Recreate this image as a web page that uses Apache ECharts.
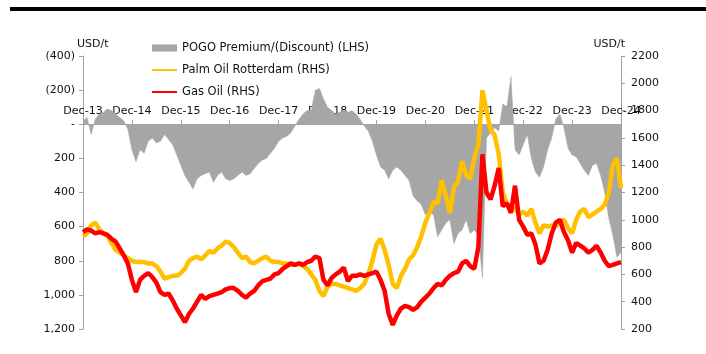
<!DOCTYPE html>
<html>
<head>
<meta charset="utf-8">
<script src="https://cdn.jsdelivr.net/npm/echarts@6/dist/echarts.min.js"></script>
<style>
  html, body { margin: 0; padding: 0; background: #fff; }
  #chart { width: 706px; height: 354px; }
</style>
</head>
<body>
<div id="chart"></div>
<script>
// monthly points, Dec-13 .. Dec-24 (133 months)
const monthNames = ['Jan', 'Feb', 'Mar', 'Apr', 'May', 'Jun', 'Jul', 'Aug', 'Sep', 'Oct', 'Nov', 'Dec'];
const months = [];
for (let i = 0; i <= 132; i++) {
    let mi = (11 + i) % 12;
    let yy = 13 + Math.floor((11 + i) / 12);
    months.push(monthNames[mi] + '-' + yy);
}

// USD/t, Palm Oil Rotterdam (RHS)
const palm = [
    880, 900, 960, 980, 930, 900, 880, 830, 780, 760, 740, 720,
    700, 690, 690, 690, 680, 680, 660, 620, 570, 580, 590, 590,
    610, 640, 700, 720, 730, 710, 740, 770, 760, 790, 810, 840,
    830, 800, 760, 720, 730, 690, 680, 700, 720, 730, 700, 690,
    690, 680, 680, 670, 670, 680, 660, 640, 600, 560, 480, 440,
    510, 530, 530, 520, 510, 500, 490, 480, 500, 530, 600, 700,
    820, 860, 780, 670, 530, 500, 590, 640, 710, 740, 800, 880,
    980, 1050, 1130, 1120, 1290, 1180, 1050, 1240, 1280, 1430, 1330, 1300,
    1450, 1550, 1950, 1800, 1660, 1620, 1480, 1200, 1120, 1100, 1080, 1040,
    1060, 1030, 1080, 980, 900, 960, 950, 960, 950, 990, 1000, 940,
    900, 1000, 1060, 1080, 1020, 1040, 1060, 1080, 1110, 1200, 1400, 1450,
    1230
];

// USD/t, Gas Oil (RHS)
const gasOil = [
    910, 930, 920, 900, 910, 900, 890, 860, 840, 790, 740, 680,
    560, 470, 560, 590, 610, 580, 540, 470, 450, 460, 410, 350,
    300, 250, 310, 350, 400, 450, 420, 440, 450, 460, 470, 490,
    500, 500, 480, 450, 430, 460, 480, 520, 550, 560, 570, 600,
    610, 640, 660, 680, 670, 680, 669, 690, 700, 730, 720, 560,
    520, 574, 600, 620, 650, 550, 590, 590, 600, 590, 600, 610,
    620, 560, 480, 310, 230, 300, 350, 370, 360, 340, 360, 400,
    430, 460, 500, 530, 520, 560, 590, 610, 620, 680, 700, 660,
    640, 800, 1480, 1200, 1150, 1250, 1380, 1100, 1120, 1050, 1250, 1000,
    950, 890, 900, 820, 680, 700, 780, 900, 980, 1000, 910, 850,
    760, 830, 810, 790, 760, 780, 810, 760, 700, 660, 670, 680,
    690
];

// USD/t, POGO Premium/(Discount) (LHS)
const pogo = [
    -20, -40, 60, -30, -60, -70, -90, -80, -60, -40, -20, 30,
    150, 220, 150, 170, 100, 80, 110, 100, 60, 90, 120, 180,
    240, 300, 340, 380, 320, 300, 290, 280, 340, 300, 280, 320,
    330, 320, 300, 280, 300, 290, 260, 230, 210, 200, 170, 140,
    100, 80, 70, 50, 10, -30, -60, -80, -80, -200, -210, -150,
    -100, -80, -60, -70, -80, -70, -80, -60, -30, 10, 40, 100,
    180, 250, 270, 320, 270, 250, 270, 300, 330, 420, 450, 470,
    530, 520, 530, 660, 620, 580, 560, 700, 640, 620, 560, 640,
    620, 650, 900, 80, 50, 20, 40, -120, -100, -280, 150, 180,
    120, 60, 200, 280, 310, 250, 150, 80, -30, -60, 20, 140,
    180, 190, 230, 270, 300, 240, 230, 300, 400, 550, 650, 780,
    750
];

const labelFont = 'DejaVu Sans';
const lhsMin = -400;
const lhsMax = 1200;
const plotTop = 56;
const plotBottom = 25;
const chartHeight = 354;

// the date axis sits on the LHS zero line
const zeroOffset = (chartHeight - plotTop - plotBottom) * (0 - lhsMin) / (lhsMax - lhsMin);

let chart = echarts.init(document.getElementById('chart'), null, {renderer: 'canvas'});

let option = {
    backgroundColor: '#ffffff',
    animation: false,
    textStyle: {fontFamily: labelFont},
    graphic: [{
        type: 'rect',
        left: 10,
        top: 7,
        shape: {width: 696, height: 4},
        style: {fill: '#000'}
    }],
    grid: {left: 83, right: 85, top: plotTop, bottom: plotBottom, containLabel: false},
    legend: {
        orient: 'vertical',
        left: 151,
        top: 42,
        padding: 0,
        itemWidth: 25,
        itemHeight: 7,
        itemGap: 10,
        selectedMode: false,
        textStyle: {fontFamily: labelFont, fontSize: 11.5, color: '#111'},
        data: [
            {name: 'POGO Premium/(Discount) (LHS)', icon: 'rect'},
            {name: 'Palm Oil Rotterdam (RHS)', itemStyle: {opacity: 0}},
            {name: 'Gas Oil (RHS)', itemStyle: {opacity: 0}}
        ]
    },
    xAxis: {
        type: 'category',
        data: months,
        boundaryGap: false,
        position: 'top',
        offset: -zeroOffset,
        axisLine: {onZero: false, lineStyle: {color: '#a0a0a0', width: 1}},
        axisTick: {show: true, interval: 11, length: 4, lineStyle: {color: '#a0a0a0'}},
        axisLabel: {
            interval: 11, showMaxLabel: true, margin: 8,
            fontFamily: labelFont, fontSize: 11, color: '#111'
        },
        splitLine: {show: false}
    },
    yAxis: [{
        type: 'value',
        inverse: true,
        min: lhsMin,
        max: lhsMax,
        interval: 200,
        name: 'USD/t',
        nameLocation: 'start',
        nameGap: 6,
        nameMoveOverlap: false,
        nameTextStyle: {fontFamily: labelFont, fontSize: 11, color: '#111', align: 'left', padding: [0, 0, 0, -6]},
        axisLine: {show: true, lineStyle: {color: '#a0a0a0'}},
        axisTick: {show: true, length: 4, lineStyle: {color: '#a0a0a0'}},
        axisLabel: {
            margin: 8, fontFamily: labelFont, fontSize: 11, color: '#111',
            formatter: function (v) {
                if (v < 0) return '(' + (-v) + ')';
                if (v === 0) return '-';
                return v.toLocaleString('en-US');
            }
        },
        splitLine: {show: false}
    }, {
        type: 'value',
        min: 200,
        max: 2200,
        interval: 200,
        position: 'right',
        name: 'USD/t',
        nameLocation: 'end',
        nameGap: 6,
        nameMoveOverlap: false,
        nameTextStyle: {fontFamily: labelFont, fontSize: 11, color: '#111', align: 'right', padding: [0, -4, 0, 0]},
        axisLine: {show: true, lineStyle: {color: '#a0a0a0'}},
        axisTick: {show: true, length: 4, lineStyle: {color: '#a0a0a0'}},
        axisLabel: {
            margin: 10, fontFamily: labelFont, fontSize: 11, color: '#111',
            formatter: function (v) { return String(v); }
        },
        splitLine: {show: false}
    }],
    series: [{
        name: 'POGO Premium/(Discount) (LHS)',
        type: 'line',
        yAxisIndex: 0,
        data: pogo,
        symbol: 'none',
        itemStyle: {color: '#a6a6a6'},
        lineStyle: {width: 0.5, color: '#a6a6a6'},
        areaStyle: {color: '#a6a6a6', opacity: 1, origin: 'auto'},
        z: 1
    }, {
        name: 'Palm Oil Rotterdam (RHS)',
        type: 'line',
        yAxisIndex: 1,
        data: palm,
        symbol: 'none',
        itemStyle: {color: '#ffc000'},
        lineStyle: {width: 4.5, color: '#ffc000'},
        z: 2
    }, {
        name: 'Gas Oil (RHS)',
        type: 'line',
        yAxisIndex: 1,
        data: gasOil,
        symbol: 'none',
        itemStyle: {color: '#ff0000'},
        lineStyle: {width: 4.5, color: '#ff0000'},
        z: 3
    }]
};

chart.setOption(option);
</script>
</body>
</html>
